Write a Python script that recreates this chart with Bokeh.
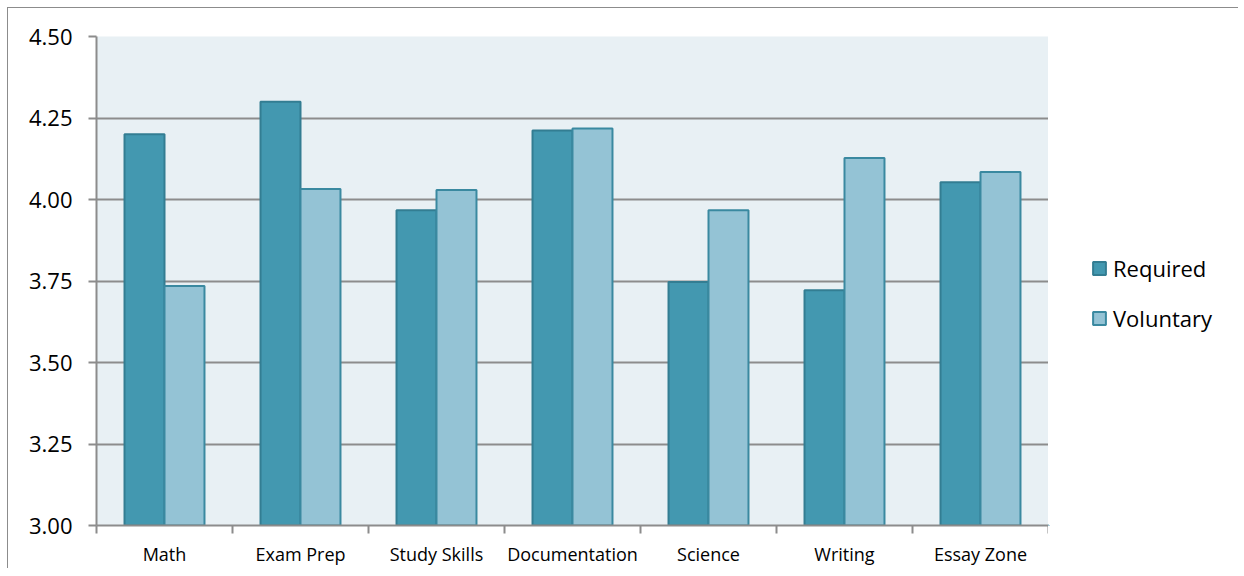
import numpy as np
from bokeh.plotting import figure
from bokeh.layouts import row
from bokeh.models import FixedTicker, Legend, LegendItem, Range1d, ColumnDataSource
from bokeh.embed import file_html
from bokeh.resources import INLINE

categories = ["Math", "Exam Prep", "Study Skills", "Documentation", "Science", "Writing", "Essay Zone"]
required = [4.20, 4.30, 3.967, 4.212, 3.747, 3.722, 4.053]
voluntary = [3.735, 4.032, 4.029, 4.218, 3.967, 4.127, 4.084]
y_ticks = [3.00, 3.25, 3.50, 3.75, 4.00, 4.25, 4.50]
series_names = ["Required", "Voluntary"]

FONT = "Open Sans"
GRID = "#8c8c8c"
REQ_FILL, REQ_LINE = "#4398b0", "#337d92"
VOL_FILL, VOL_LINE = "#94c3d5", "#3a89a0"

n = len(categories)
centers = np.arange(n) + 0.5
bw = 0.294

H = 560
p = figure(width=1040, height=H, output_backend="svg", toolbar_location=None,
           x_range=Range1d(0, n), y_range=Range1d(3.0, 4.5),
           min_border_left=88, min_border_top=28, min_border_right=0, min_border_bottom=42)
p.background_fill_color = "#e8f0f4"
p.border_fill_color = "white"
p.outline_line_color = None

src_r = ColumnDataSource(dict(x=centers - bw / 2, top=required))
src_v = ColumnDataSource(dict(x=centers + bw / 2, top=voluntary))
p.vbar(x="x", top="top", bottom=3.0, width=bw, source=src_r,
       fill_color=REQ_FILL, line_color=REQ_LINE, line_width=2)
p.vbar(x="x", top="top", bottom=3.0, width=bw, source=src_v,
       fill_color=VOL_FILL, line_color=VOL_LINE, line_width=2)

# y axis
p.yaxis.ticker = FixedTicker(ticks=y_ticks)
p.yaxis.major_label_overrides = {t: f"{t:.2f}" for t in y_ticks}
p.yaxis.axis_line_color = GRID
p.yaxis.axis_line_width = 2
p.yaxis.major_tick_line_color = GRID
p.yaxis.major_tick_line_width = 2
p.yaxis.major_tick_in = 0
p.yaxis.major_tick_out = 8
p.yaxis.minor_tick_line_color = None
p.yaxis.major_label_text_font = FONT
p.yaxis.major_label_text_font_size = "22px"
p.yaxis.major_label_text_color = "black"
p.yaxis.major_label_standoff = 16

# x axis
p.xaxis.ticker = FixedTicker(ticks=list(centers), minor_ticks=list(range(n + 1)))
p.xaxis.major_label_overrides = {float(c): lab for c, lab in zip(centers, categories)}
p.xaxis.axis_line_color = GRID
p.xaxis.axis_line_width = 2
p.xaxis.major_tick_line_color = None
p.xaxis.major_tick_in = 0
p.xaxis.major_tick_out = 8
p.xaxis.minor_tick_line_color = GRID
p.xaxis.minor_tick_line_width = 2
p.xaxis.minor_tick_in = 0
p.xaxis.minor_tick_out = 8
p.xaxis.major_label_text_font = FONT
p.xaxis.major_label_text_font_size = "18px"
p.xaxis.major_label_text_color = "black"
p.xaxis.major_label_standoff = 8

p.xgrid.grid_line_color = None
p.ygrid.grid_line_color = GRID
p.ygrid.grid_line_width = 2

# legend panel (swatch renderers sit outside its visible range)
q = figure(width=190, height=H, output_backend="svg", toolbar_location=None,
           x_range=Range1d(0, 1), y_range=Range1d(0, 1),
           min_border_left=0, min_border_right=0, min_border_top=0, min_border_bottom=0)
q.axis.visible = False
q.grid.grid_line_color = None
q.outline_line_color = None
q.background_fill_color = "white"
q.border_fill_color = "white"
lr1 = q.vbar(x=[-5], top=[-5], bottom=-6, width=0.1,
             fill_color=REQ_FILL, line_color=REQ_LINE, line_width=2)
lr2 = q.vbar(x=[-5], top=[-5], bottom=-6, width=0.1,
             fill_color=VOL_FILL, line_color=VOL_LINE, line_width=2)

legend = Legend(items=[LegendItem(label=series_names[0], renderers=[lr1]),
                       LegendItem(label=series_names[1], renderers=[lr2])],
                location=(43, 192), orientation="vertical")
legend.border_line_color = None
legend.background_fill_alpha = 0
legend.padding = 0
legend.margin = 0
legend.spacing = 20
legend.glyph_width = 16
legend.glyph_height = 16
legend.label_height = 22
legend.label_standoff = 6
legend.label_text_font = FONT
legend.label_text_font_size = "22px"
legend.label_text_color = "black"
q.add_layout(legend, "center")

layout = row(p, q)
layout.styles = {"border-top": "1px solid #8c8c8c", "border-left": "1px solid #8c8c8c",
                 "margin-left": "7px", "margin-top": "7px"}

open("out.html", "w").write(file_html(layout, INLINE))
